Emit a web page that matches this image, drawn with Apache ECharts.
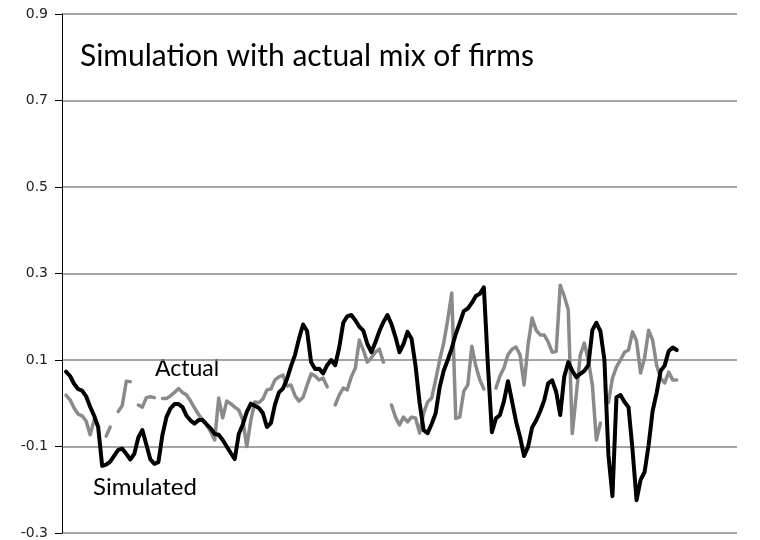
<!DOCTYPE html>
<html>
<head>
<meta charset="utf-8">
<script src="https://cdn.jsdelivr.net/npm/echarts@6/dist/echarts.min.js"></script>
<style>
  html, body { margin: 0; padding: 0; background: #fff; }
  #chart { width: 760px; height: 540px; }
</style>
</head>
<body>
<div id="chart"></div>
<script>
// Period index (no labels shown on the x axis)
const periodCount = 169;
const periods = Array.from({ length: periodCount }, (_, i) => String(i));

// Y tick labels
const yTickLabels = ['-0.3', '-0.1', '0.1', '0.3', '0.5', '0.7', '0.9'];

// Simulated series (periods 1..153)
const simulated = [
  0.073, 0.063, 0.045, 0.033, 0.029, 0.016, -0.008, -0.029, -0.055, -0.145,
  -0.142, -0.135, -0.121, -0.108, -0.105, -0.117, -0.130, -0.117, -0.079, -0.062,
  -0.096, -0.130, -0.140, -0.136, -0.073, -0.032, -0.012, -0.002, -0.002, -0.009,
  -0.029, -0.040, -0.047, -0.039, -0.039, -0.049, -0.058, -0.071, -0.073, -0.085,
  -0.100, -0.115, -0.129, -0.071, -0.049, -0.020, -0.001, -0.006, -0.011, -0.023,
  -0.055, -0.046, -0.003, 0.025, 0.034, 0.056, 0.086, 0.112, 0.150, 0.182,
  0.167, 0.095, 0.079, 0.080, 0.069, 0.088, 0.100, 0.088, 0.129, 0.186,
  0.201, 0.204, 0.192, 0.177, 0.168, 0.137, 0.118, 0.141, 0.167, 0.188,
  0.204, 0.183, 0.153, 0.118, 0.137, 0.165, 0.149, 0.086, 0.001, -0.062,
  -0.069, -0.048, -0.023, 0.037, 0.075, 0.100, 0.127, 0.160, 0.186, 0.213,
  0.219, 0.232, 0.248, 0.253, 0.268, 0.088, -0.067, -0.035, -0.027, 0.005,
  0.051, 0.005, -0.042, -0.078, -0.122, -0.101, -0.056, -0.040, -0.019, 0.006,
  0.046, 0.053, 0.026, -0.027, 0.061, 0.095, 0.075, 0.060, 0.068, 0.075,
  0.088, 0.169, 0.186, 0.167, 0.100, -0.120, -0.215, 0.014, 0.019, 0.003,
  -0.009, -0.108, -0.224, -0.177, -0.159, -0.097, -0.018, 0.024, 0.075, 0.087,
  0.121, 0.129, 0.123
];

// Actual series (periods 1..153), null = missing
const actual = [
  0.019, 0.008, -0.011, -0.025, -0.029, -0.041, -0.073, -0.039, null, null,
  -0.076, -0.055, null, -0.019, -0.005, 0.051, 0.050, null, -0.004, -0.009,
  0.013, 0.015, 0.013, null, 0.011, 0.011, 0.017, 0.025, 0.034, 0.025,
  0.019, 0.005, -0.011, -0.026, -0.039, -0.050, -0.066, -0.085, 0.012, -0.034,
  0.005, -0.001, -0.009, -0.016, -0.039, -0.100, -0.039, 0.003, 0.001, 0.010,
  0.031, 0.033, 0.054, 0.061, 0.065, 0.040, 0.042, 0.017, 0.005, 0.014,
  0.042, 0.068, 0.063, 0.054, 0.058, 0.038, null, -0.004, 0.019, 0.035,
  0.031, 0.061, 0.081, 0.146, 0.123, 0.095, 0.105, 0.118, 0.125, 0.095,
  null, -0.004, -0.032, -0.050, -0.032, -0.043, -0.032, -0.034, -0.069, -0.023,
  0.003, 0.012, 0.054, 0.100, 0.139, 0.193, 0.255, -0.035, -0.032, 0.028,
  0.042, 0.132, 0.086, 0.054, 0.033, null, null, 0.035, 0.063, 0.082,
  0.112, 0.125, 0.130, 0.112, 0.042, 0.135, 0.197, 0.169, 0.158, 0.158,
  0.142, 0.118, 0.120, 0.273, 0.248, 0.216, -0.070, 0.020, 0.112, 0.139,
  0.100, 0.042, -0.085, -0.046, null, 0.001, 0.058, 0.084, 0.100, 0.118,
  0.123, 0.165, 0.144, 0.070, 0.105, 0.169, 0.146, 0.088, 0.058, 0.047,
  0.072, 0.054, 0.054
];

function pad(arr) {
  const out = [null].concat(arr);
  while (out.length < periodCount) out.push(null);
  return out;
}

const yMin = Number(yTickLabels[0]);
const yMax = Number(yTickLabels[yTickLabels.length - 1]);
const yStep = Number(yTickLabels[1]) - Number(yTickLabels[0]);

const chart = echarts.init(document.getElementById('chart'), null, { renderer: 'canvas' });
chart.setOption({
  animation: false,
  backgroundColor: '#ffffff',
  grid: { left: 62, right: 23, top: 14, bottom: 7, containLabel: false },
  xAxis: {
    type: 'category',
    data: periods,
    boundaryGap: false,
    axisLine: { show: false },
    axisTick: { show: false },
    axisLabel: { show: false },
    splitLine: { show: false }
  },
  yAxis: [
    {
      // display axis (offset so ticks start at 0)
      type: 'value',
      min: 0,
      max: yMax - yMin,
      interval: yStep,
      position: 'left',
      axisLine: { show: true, onZero: false, lineStyle: { color: '#000', width: 1 } },
      axisTick: { show: true, inside: false, length: 7, lineStyle: { color: '#000', width: 1 } },
      axisLabel: {
        margin: 14,
        color: '#222',
        fontFamily: 'DejaVu Sans',
        fontSize: 14,
        formatter: function (v) { return yTickLabels[Math.round(v / yStep)]; }
      },
      splitLine: { show: true, lineStyle: { color: '#868686', width: 1.5 } }
    },
    {
      // data axis (true values)
      type: 'value',
      min: yMin,
      max: yMax,
      show: false,
      splitLine: { show: false }
    }
  ],
  graphic: [
    {
      type: 'text', left: 80, top: 41,
      style: { text: 'Simulation with actual mix of firms', font: '30px Lato', fill: '#000' }
    },
    {
      type: 'text', left: 155, top: 357,
      style: { text: 'Actual', font: '23px Lato', fill: '#000' }
    },
    {
      type: 'text', left: 93, top: 475,
      style: { text: 'Simulated', font: '24px Lato', fill: '#000' }
    }
  ],
  series: [
    {
      name: 'Actual',
      type: 'line',
      yAxisIndex: 1,
      data: pad(actual),
      showSymbol: false,
      symbol: 'none',
      connectNulls: false,
      lineStyle: { color: '#8a8a8a', width: 3.5, join: 'round', cap: 'round' }
    },
    {
      name: 'Simulated',
      type: 'line',
      yAxisIndex: 1,
      data: pad(simulated),
      showSymbol: false,
      symbol: 'none',
      lineStyle: { color: '#000000', width: 4, join: 'round', cap: 'round' }
    }
  ]
});
</script>
</body>
</html>
